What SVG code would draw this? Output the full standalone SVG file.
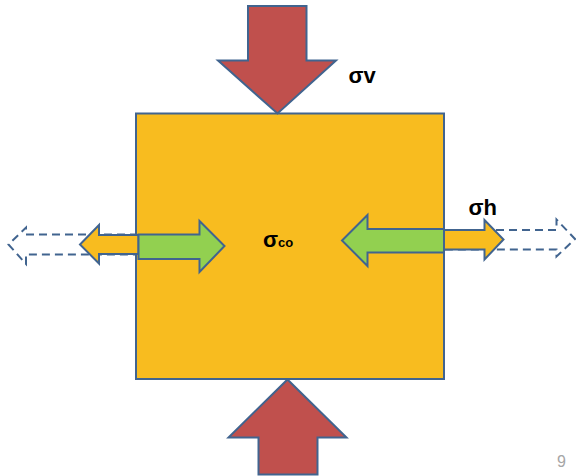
<svg xmlns="http://www.w3.org/2000/svg" width="576" height="476" viewBox="0 0 576 476">
<style>
.box{fill:#F8BC1F;stroke:#41648F;stroke-width:2}
.red{fill:#C0504D;stroke:#41648F;stroke-width:2;stroke-linejoin:miter}
.grn{fill:#92D050;stroke:#41648F;stroke-width:2}
.org{fill:#F8BC1F;stroke:#41648F;stroke-width:2}
.dash{fill:#FFFFFF;stroke:#41648F;stroke-width:2;stroke-dasharray:8 5}
.lbl{font-family:"Liberation Sans",Arial,sans-serif;font-weight:bold;fill:#000}
.pg{font-family:"Liberation Sans",Arial,sans-serif;font-size:16px;fill:#A6A6A6}
</style>
<g id="connectors">
<polygon class="dash" points="138,234.5 26,234.5 26,227.5 8.5,244.5 26,264 26,254.5 138,254.5"/>
<polygon class="dash" points="444,230 556.5,230 556.5,219.5 575,239 556.5,256.5 556.5,249.5 444,249.5"/>
</g>
<g id="block">
<rect class="box" x="136" y="113.5" width="308" height="265.5"/>
</g>
<g id="arrow-top">
<polygon class="red" points="248,6 306.5,6 306.5,60.5 336,60.5 277.5,113.5 218,60.5 248,60.5"/>
</g>
<g id="arrow-bottom">
<polygon class="red" points="287.5,379.5 346.5,437.5 317.5,437.5 317.5,474.5 258.5,474.5 258.5,437.5 228.5,437.5"/>
</g>
<g id="arrow-left-orange">
<polygon class="org" points="138.5,235 99,235 99,225 80,244.5 99,263.5 99,254 138.5,254"/>
</g>
<g id="arrow-left-green">
<polygon class="grn" points="138.5,234.5 199.5,234.5 199.5,221 224.5,246 199.5,272 199.5,259 138.5,259"/>
</g>
<g id="arrow-right-green">
<polygon class="grn" points="444,229 367.5,229 367.5,215 342,240.5 367.5,266 367.5,252.5 444,252.5"/>
</g>
<g id="arrow-right-orange">
<polygon class="org" points="444,230 484.5,230 484.5,220 503.5,239.5 484.5,259.5 484.5,249.5 444,249.5"/>
</g>
<g id="labels">
<text class="lbl" x="348.5" y="83" font-size="22">σv</text>
<text class="lbl" x="468.5" y="215" font-size="22">σh</text>
<text class="lbl" x="263" y="247" font-size="22">σ<tspan font-size="13">co</tspan></text>
<text class="pg" x="557" y="467">9</text>
</g>
</svg>
